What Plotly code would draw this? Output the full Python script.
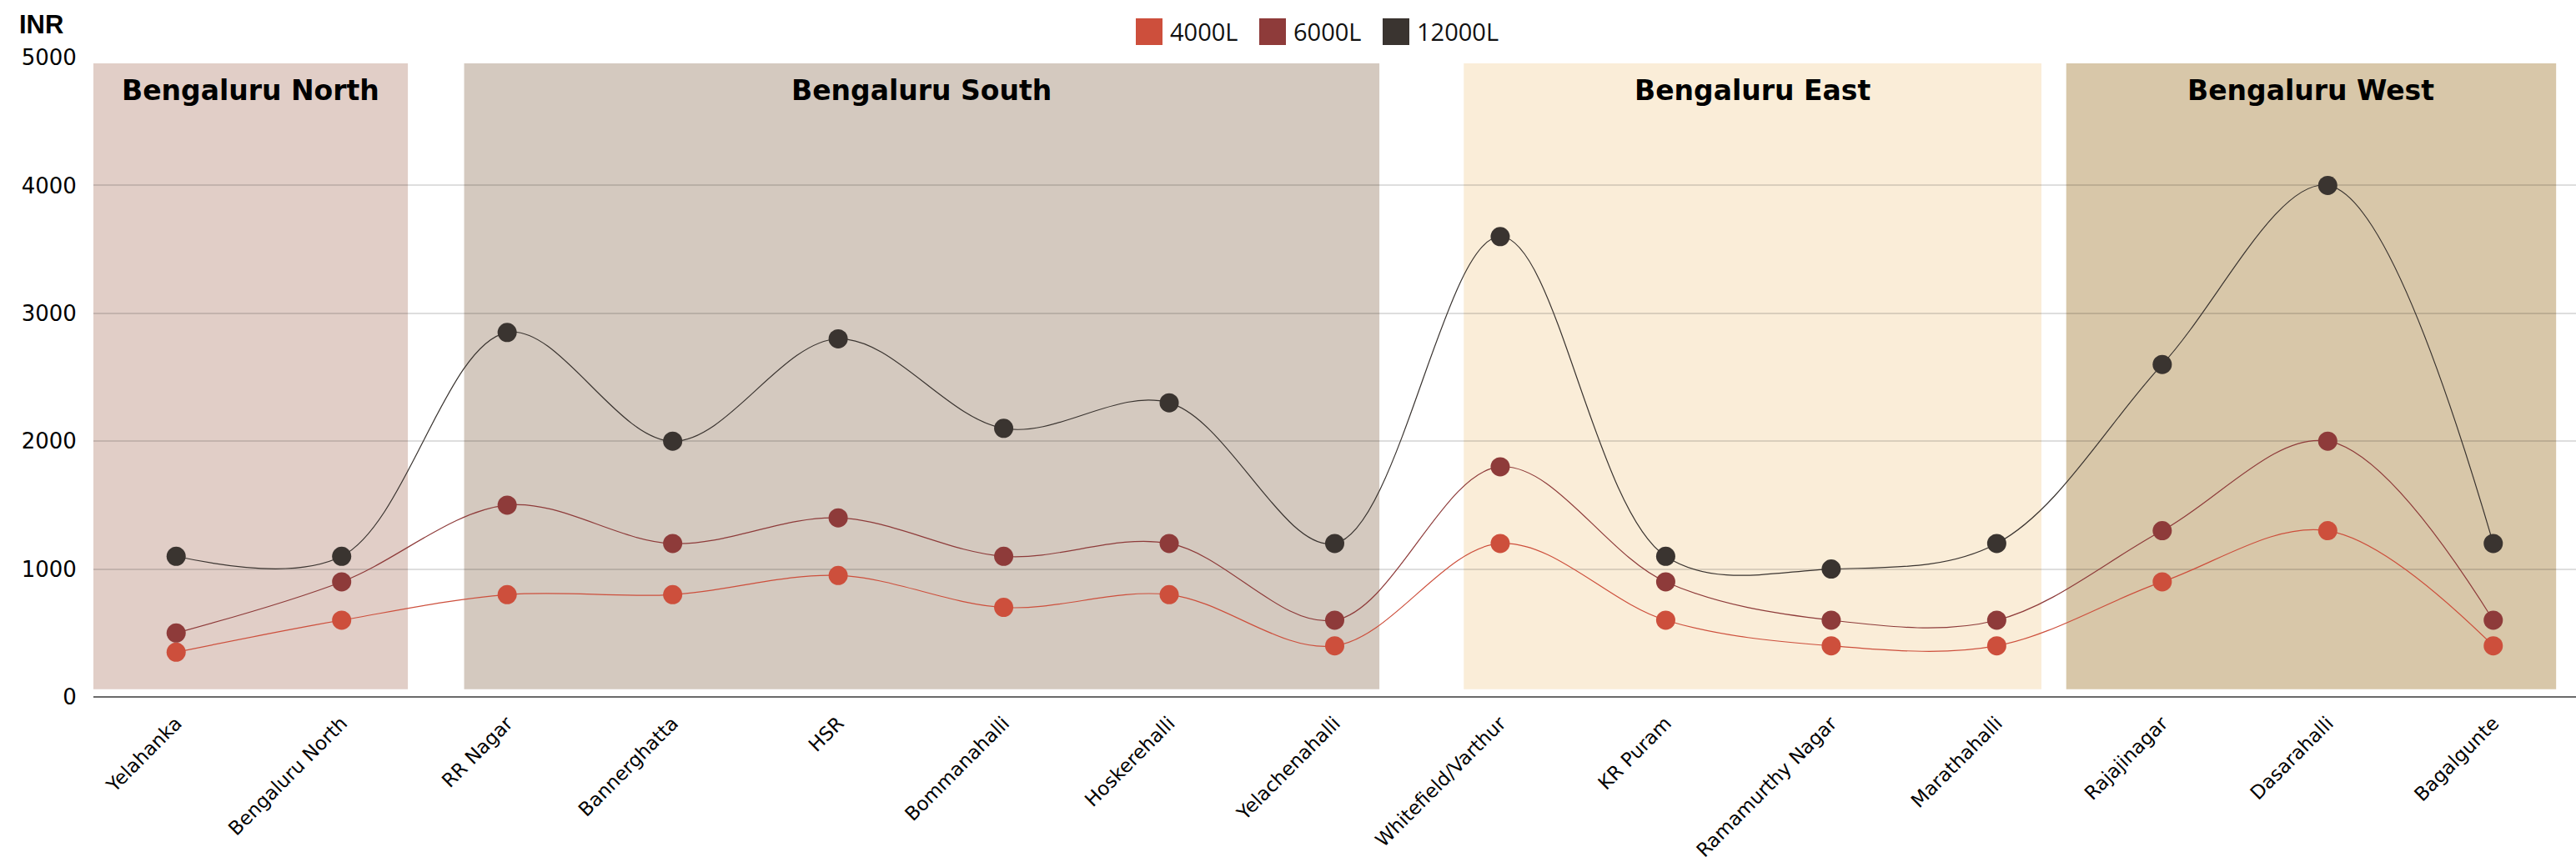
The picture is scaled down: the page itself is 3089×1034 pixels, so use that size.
import plotly.graph_objects as go

# ---- data ----
categories = ["Yelahanka", "Bengaluru North", "RR Nagar", "Bannerghatta", "HSR",
              "Bommanahalli", "Hoskerehalli", "Yelachenahalli", "Whitefield/Varthur",
              "KR Puram", "Ramamurthy Nagar", "Marathahalli", "Rajajinagar",
              "Dasarahalli", "Bagalgunte"]
s4000 = [350, 600, 800, 800, 950, 700, 800, 400, 1200, 600, 400, 400, 900, 1300, 400]
s6000 = [500, 900, 1500, 1200, 1400, 1100, 1200, 600, 1800, 900, 600, 600, 1300, 2000, 600]
s12000 = [1100, 1100, 2850, 2000, 2800, 2100, 2300, 1200, 3600, 1100, 1000, 1200, 2600, 4000, 1200]
series_names = ["4000L", "6000L", "12000L"]
series_colors = ["#CD4F3C", "#8E3B3A", "#3A3430"]

regions = ["Bengaluru North", "Bengaluru South", "Bengaluru East", "Bengaluru West"]
region_spans = [(-0.5, 1.4), (1.74, 7.27), (7.78, 11.27), (11.42, 14.38)]
region_colors = ["#E1CEC7", "#D4C9BF", "#FAEDD8", "#D8C7A9"]

W, H = 3089, 1034
ML, MR, MT, MB = 112, 0, 69, 198
PW, PH = W - ML - MR, H - MT - MB

def px_x(p):
    return (p - ML) / PW

def px_y(p):
    return (H - MB - p) / PH

fig = go.Figure()
for name, vals, col in zip(series_names, [s4000, s6000, s12000], series_colors):
    fig.add_trace(go.Scatter(
        x=categories, y=vals, name=name, mode="lines+markers",
        line=dict(color=col, width=1.2, shape="spline", smoothing=1.0),
        marker=dict(color=col, size=23, line=dict(width=0)),
        showlegend=False,
    ))

shapes = []
annotations = []
for rname, (a, b), col in zip(regions, region_spans, region_colors):
    shapes.append(dict(type="rect", xref="x", yref="y", x0=a, x1=b, y0=60, y1=4955,
                       fillcolor=col, line=dict(width=0), layer="below"))
    annotations.append(dict(x=(a + b) / 2, y=4745, xref="x", yref="y", text=rname,
                            showarrow=False, xanchor="center", yanchor="middle",
                            font=dict(family="DejaVu Sans", size=33, color="#000000", weight="bold")))

# legend (manual)
leg_x = [1362, 1510, 1658]
for lx, name, col in zip(leg_x, series_names, series_colors):
    shapes.append(dict(type="rect", xref="paper", yref="paper",
                       x0=px_x(lx), x1=px_x(lx + 32), y0=px_y(54), y1=px_y(22),
                       fillcolor=col, line=dict(width=0)))
    annotations.append(dict(x=px_x(lx + 39), y=px_y(38), xref="paper", yref="paper",
                            text=name, showarrow=False, xanchor="left", yanchor="middle",
                            font=dict(family="Open Sans", size=29, color="#111111")))

# axis title INR
annotations.append(dict(x=px_x(21), y=px_y(29), xref="paper", yref="paper", text="<b>INR</b>",
                        showarrow=False, xanchor="left", yanchor="middle",
                        font=dict(family="Liberation Sans", size=31, color="#000000")))

fig.update_layout(
    width=W, height=H,
    margin=dict(l=ML, r=MR, t=MT, b=MB, autoexpand=False),
    paper_bgcolor="white", plot_bgcolor="white",
    shapes=shapes, annotations=annotations,
    xaxis=dict(type="category", range=[-0.5, 14.5], showgrid=False, zeroline=False,
               showline=False, tickangle=-45, automargin=False,
               tickfont=dict(family="DejaVu Sans", size=23, color="#000000"),
               ticks="outside", ticklen=8, tickcolor="rgba(0,0,0,0)"),
    yaxis=dict(range=[0, 5000], dtick=1000, showgrid=True, gridcolor="rgba(0,0,0,0.13)",
               gridwidth=1.5, zeroline=True, zerolinecolor="#6a6a6a", zerolinewidth=2,
               showline=False, ticks="outside", ticklen=14, tickcolor="rgba(0,0,0,0)",
               automargin=False,
               tickfont=dict(family="DejaVu Sans", size=26, color="#000000")),
    showlegend=False,
)

fig.write_html("out.html")
